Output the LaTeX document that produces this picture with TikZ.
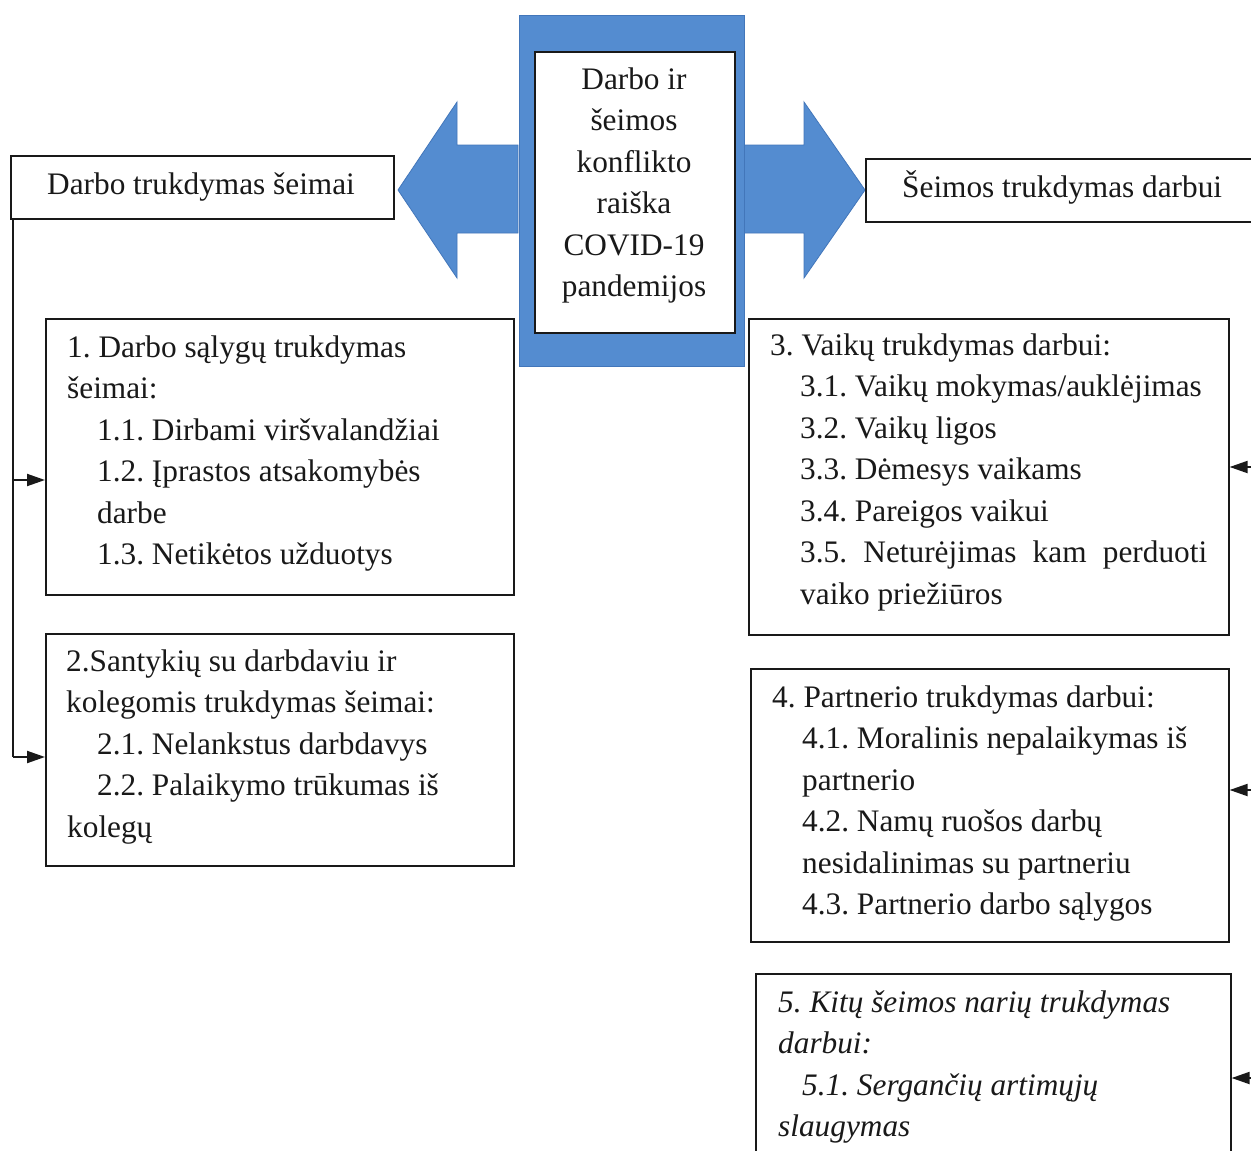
\documentclass[tikz,border=0pt]{standalone}
\usepackage{fontspec}
\setmainfont{Liberation Serif}
\usetikzlibrary{arrows.meta}
\definecolor{bblue}{RGB}{84,140,208}
\definecolor{bbord}{RGB}{66,118,186}
\definecolor{ink}{RGB}{25,25,25}
\frenchspacing
\begin{document}
\frenchspacing
\begin{tikzpicture}[x=1pt,y=-1pt,
  box/.style={draw=ink, line width=1.6pt, inner sep=0pt, anchor=north west},
  txt/.style={anchor=base west, inner sep=0pt, align=left, text=ink, font=\fontsize{31.3}{41.5}\selectfont},
  ctxt/.style={anchor=base, inner sep=0pt, align=center, text=ink, font=\fontsize{31.3}{41.5}\selectfont},
  conn/.style={draw=ink, line width=2pt},
  arrtip/.style={-{Triangle[length=18pt,width=12pt]}},
  bigarrow/.style={fill=bblue, draw=bbord, line width=0.8pt}]
\useasboundingbox (0,0) rectangle (1251,1151);
\clip (0,0) rectangle (1251,1151);
\fill[white] (0,0) rectangle (1251,1151);
% central blue block and arrows
\path[bigarrow] (518,145) -- (457,145) -- (457,102) -- (398,190) -- (457,278) -- (457,233) -- (518,233) -- cycle;
\path[bigarrow] (744,145) -- (804,145) -- (804,102) -- (865,190) -- (804,278) -- (804,233) -- (744,233) -- cycle;
\node[box, draw=bbord, line width=0.8pt, fill=bblue, minimum width=225pt, minimum height=351pt] (blue) at (518.5,14.5) {};
\node[box, fill=white, minimum width=200pt, minimum height=281pt] (center) at (534,51) {};
% (anchor base = baseline of the last line)
\node[ctxt] (ct) at (634,296.5) {Darbo ir\\šeimos\\konflikto\\raiška\\COVID-19\\pandemijos};
% headers
\node[box, minimum width=383pt, minimum height=63pt] (hl) at (10,155) {};
\node[txt] (hlt) at (47,194) {Darbo trukdymas šeimai};
\node[box, minimum width=400pt, minimum height=63pt] (hr) at (865,158) {};
\node[txt] (hrt) at (902,197) {Šeimos trukdymas darbui};
% left boxes
\node[box, minimum width=468pt, minimum height=276pt] (b1) at (45,318) {};
\node[txt] (b1t) at (67,564.5) {1. Darbo sąlygų trukdymas\\šeimai:\\\hspace*{30pt}1.1. Dirbami viršvalandžiai\\\hspace*{30pt}1.2. Įprastos atsakomybės\\\hspace*{30pt}darbe\\\hspace*{30pt}1.3. Netikėtos užduotys};
\node[box, minimum width=468pt, minimum height=232pt] (b2) at (45,633) {};
\node[txt] (b2t) at (66,837) {2.Santykių su darbdaviu ir\\kolegomis trukdymas šeimai:\\\hspace*{31pt}2.1. Nelankstus darbdavys\\\hspace*{31pt}2.2. Palaikymo trūkumas iš\\\hspace*{1pt}kolegų};
% right boxes
\node[box, minimum width=480pt, minimum height=316pt] (b3) at (748,318) {};
\node[txt] (b3t) at (770,604) {3. Vaikų trukdymas darbui:\\\hspace*{30pt}3.1. Vaikų mokymas/auklėjimas\\\hspace*{30pt}3.2. Vaikų ligos\\\hspace*{30pt}3.3. Dėmesys vaikams\\\hspace*{30pt}3.4. Pareigos vaikui\\\hspace*{30pt}\makebox[407pt][s]{3.5. Neturėjimas kam perduoti}\\\hspace*{30pt}vaiko priežiūros};
\node[box, minimum width=478pt, minimum height=273pt] (b4) at (750,668) {};
\node[txt] (b4t) at (772,914.5) {4. Partnerio trukdymas darbui:\\\hspace*{30pt}4.1. Moralinis nepalaikymas iš\\\hspace*{30pt}partnerio\\\hspace*{30pt}4.2. Namų ruošos darbų\\\hspace*{30pt}nesidalinimas su partneriu\\\hspace*{30pt}4.3. Partnerio darbo sąlygos};
\node[box, minimum width=475pt, minimum height=200pt] (b5) at (755,973) {};
\node[txt, font=\fontsize{31.3}{41.5}\selectfont\itshape] (b5t) at (778,1136.5) {5. Kitų šeimos narių trukdymas\\darbui:\\\hspace*{24pt}5.1. Sergančių artimųjų\\slaugymas};
% left connectors
\coordinate (lj1) at (13,480);
\coordinate (lj2) at (13,757);
\draw[conn] (hl.south west -| lj1) -- (lj2);
\draw[conn, arrtip] (lj1) -- (lj1 -| b1.west);
\draw[conn, arrtip] (lj2) -- (lj2 -| b2.west);
% right connectors
\coordinate (r3) at (1252,467);
\coordinate (r4) at (1252,790);
\coordinate (r5) at (1252,1078);
\draw[conn, arrtip] (r3) -- (r3 -| b3.east);
\draw[conn, arrtip] (r4) -- (r4 -| b4.east);
\draw[conn, arrtip] (r5) -- (r5 -| b5.east);
\end{tikzpicture}
\end{document}
